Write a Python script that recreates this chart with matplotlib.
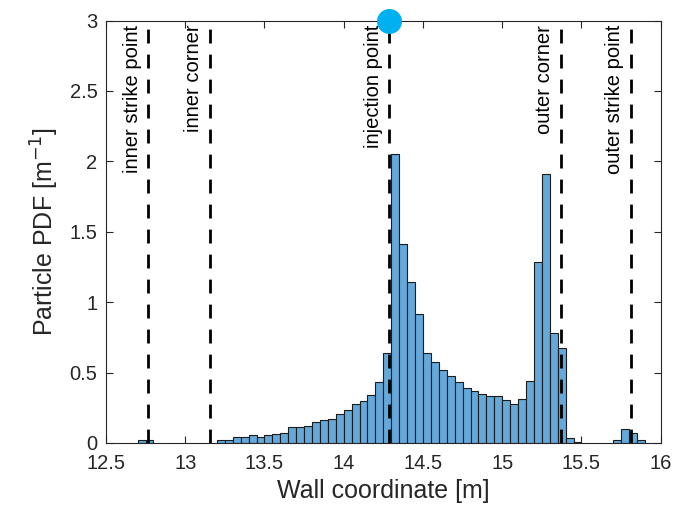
import matplotlib
matplotlib.use('Agg')
import matplotlib.pyplot as plt
import numpy as np

plt.rcParams['font.family'] = ['Liberation Sans', 'DejaVu Sans']

# Histogram: first bin edge, bin width and PDF value of each bin [1/m]
bin_start = 12.70
bin_width = 0.05
pdf = [0.02, 0.02,
       0, 0, 0, 0, 0, 0, 0, 0,
       0.022, 0.02, 0.045, 0.045, 0.053, 0.045, 0.053, 0.062, 0.069, 0.11,
       0.116, 0.123, 0.146, 0.166, 0.17, 0.206, 0.237, 0.274, 0.296, 0.341,
       0.43, 0.639, 2.055, 1.413, 1.141, 0.916, 0.639, 0.577, 0.515, 0.474,
       0.431, 0.393, 0.372, 0.348, 0.33, 0.33, 0.305, 0.275, 0.312, 0.443,
       1.283, 1.913, 0.778, 0.675, 0.037, 0.006,
       0, 0, 0, 0,
       0.02, 0.10, 0.067, 0.02]

# Wall positions of the marked features
marker_names = ['inner strike point', 'inner corner', 'injection point',
                'outer corner', 'outer strike point']
marker_pos = [12.767, 13.155, 14.285, 15.368, 15.81]
injection_x = 14.285

edges = bin_start + bin_width * np.arange(len(pdf) + 1)
pdf = np.array(pdf)

fig = plt.figure(figsize=(6.97, 5.15), dpi=100)
ax = fig.add_axes([0.152, 0.140, 0.796, 0.820])

txt = '#262626'
nz = pdf > 0
ax.bar(edges[:-1][nz], pdf[nz], width=bin_width, align='edge',
       color='#65a8da', edgecolor='#1c1c1c', linewidth=0.8, zorder=2)

for name, x in zip(marker_names, marker_pos):
    ax.plot([x, x], [0, 3], '--', color='black', linewidth=2, dashes=(5, 4), zorder=3)
    ax.text(x - 0.1, 2.97, name, rotation=90, ha='center', va='top',
            fontsize=14.5, color='black', zorder=4)

ax.plot(injection_x, 3, 'o', color='#00b0f0', markersize=17, clip_on=False, zorder=5)

ax.set_xlim(12.5, 16)
ax.set_ylim(0, 3)
ax.set_xticks([12.5, 13, 13.5, 14, 14.5, 15, 15.5, 16])
ax.set_xticklabels(['12.5', '13', '13.5', '14', '14.5', '15', '15.5', '16'])
ax.set_yticks([0, 0.5, 1, 1.5, 2, 2.5, 3])
ax.set_yticklabels(['0', '0.5', '1', '1.5', '2', '2.5', '3'])
ax.tick_params(direction='in', length=5, width=0.8, labelsize=14.5, colors=txt,
               top=True, right=True)
ax.tick_params(axis='x', pad=8)
ax.tick_params(axis='y', pad=6)
for s in ax.spines.values():
    s.set_color(txt)
    s.set_linewidth(0.8)

ax.set_xlabel('Wall coordinate [m]', fontsize=18, color=txt, labelpad=4)
ax.set_ylabel('Particle PDF [m$^{-1}$]', fontsize=18, color=txt, labelpad=6)

fig.savefig('out.png', dpi=100)
